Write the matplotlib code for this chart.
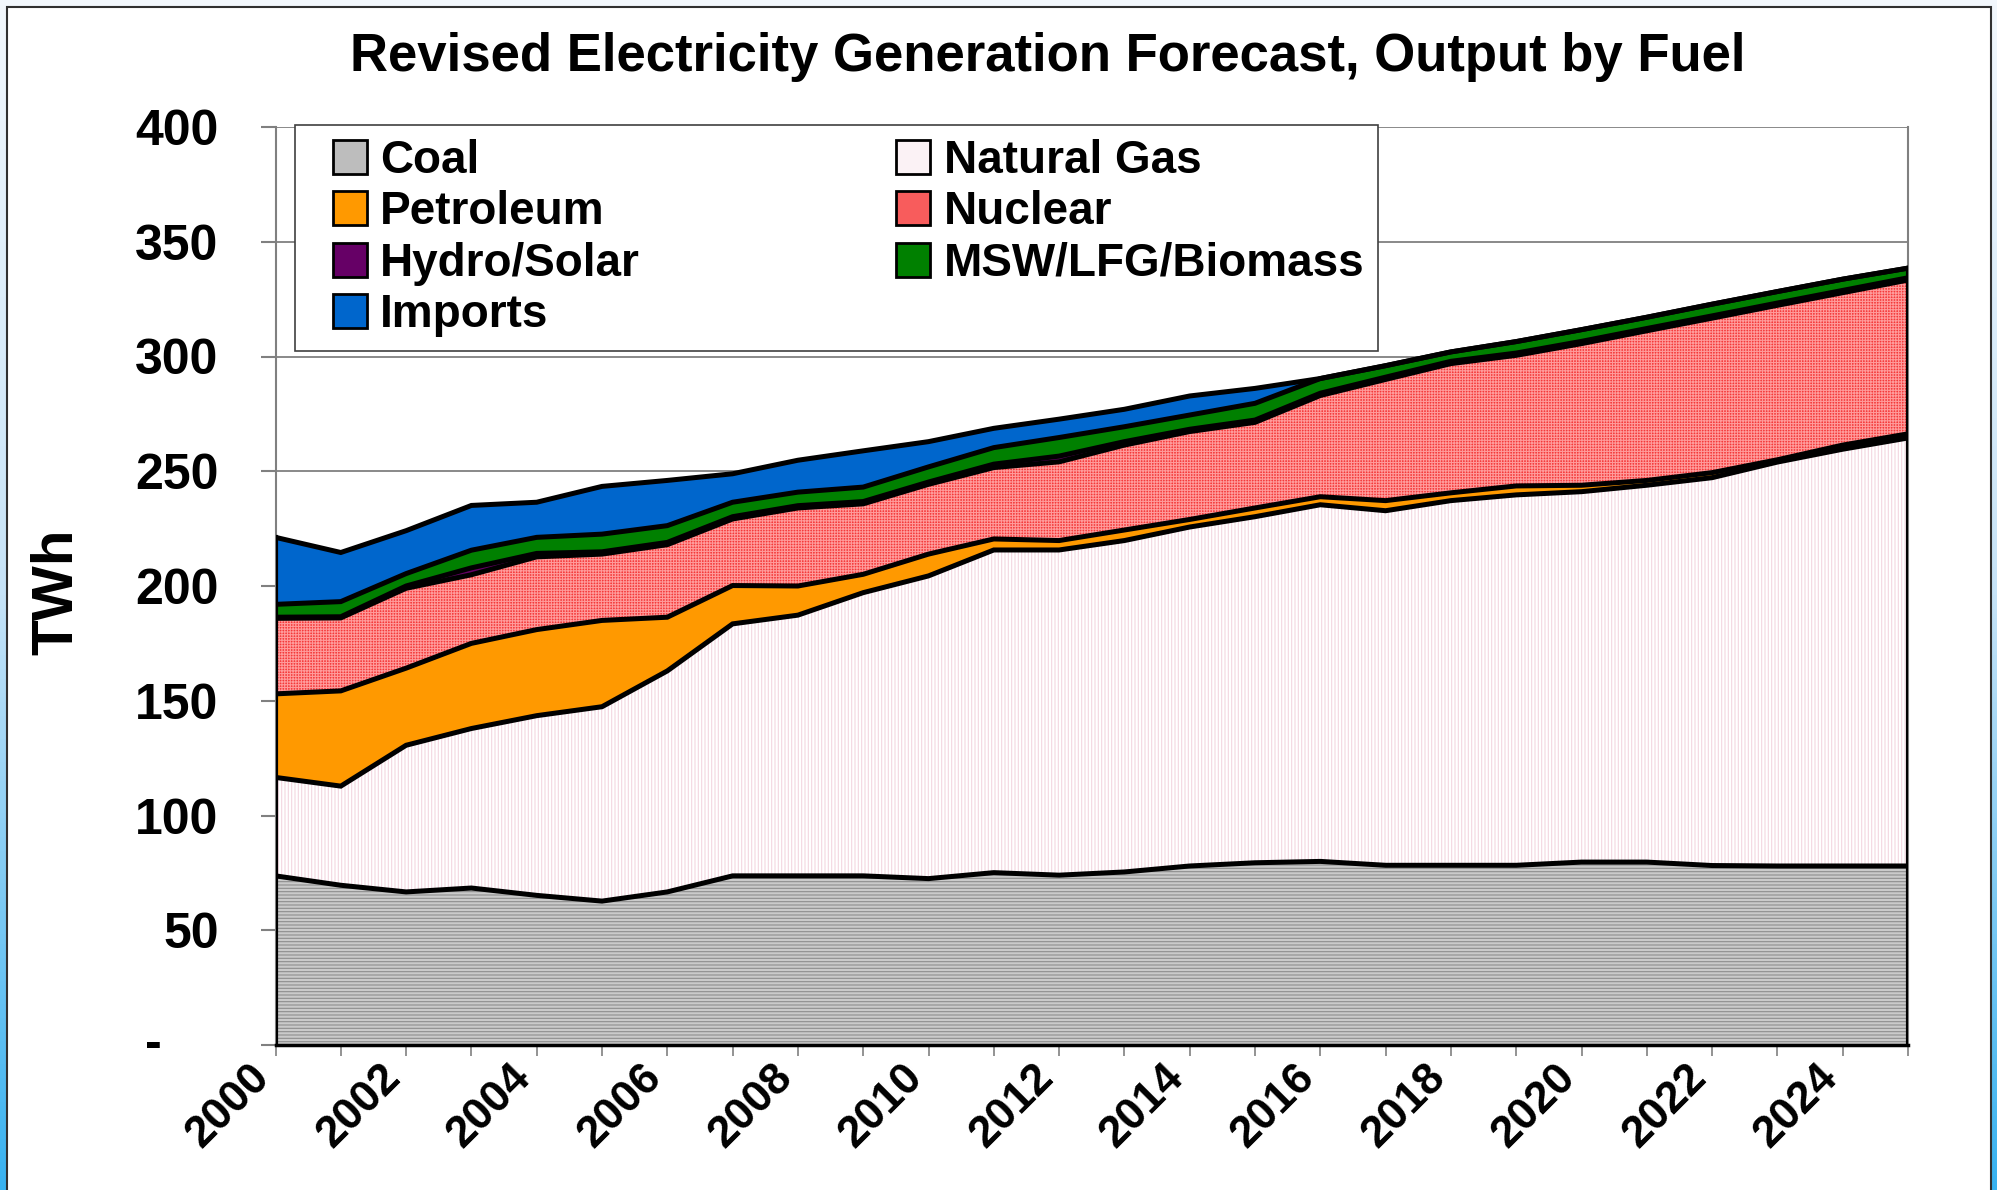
import numpy as np
import matplotlib.pyplot as plt
import matplotlib.transforms as mtransforms
from matplotlib.lines import Line2D
from matplotlib.patches import Rectangle
from matplotlib.colors import LinearSegmentedColormap

plt.rcParams['font.family'] = ['Liberation Sans', 'DejaVu Sans']
plt.rcParams['font.weight'] = 'bold'
plt.rcParams['hatch.linewidth'] = 0.8

# values (TWh)
years = list(range(2000, 2026))
coal = [73.7, 69.6, 66.7, 68.4, 65.2, 62.7, 66.7, 73.7, 73.7, 73.7, 72.5, 75.1, 74.0,
        75.4, 78.0, 79.4, 80.0, 78.3, 78.3, 78.3, 79.7, 79.7, 78.2, 78.0, 78.0, 78.0]
natural_gas = [42.9, 43.2, 63.9, 69.5, 78.3, 84.7, 96.3, 109.8, 113.6, 123.4, 131.9, 140.6, 141.7,
               144.4, 147.7, 150.8, 155.4, 154.5, 158.9, 161.4, 161.4, 164.2, 169.0, 176.0, 181.6, 186.5]
petroleum = [36.4, 41.5, 33.6, 37.1, 37.5, 37.6, 23.4, 16.7, 12.7, 8.0, 9.5, 4.8, 4.1,
             4.6, 3.3, 3.8, 3.5, 4.4, 3.4, 3.9, 2.8, 2.1, 2.2, 1.0, 1.8, 1.8]
nuclear = [32.9, 31.8, 34.8, 29.9, 31.7, 28.9, 31.6, 29.0, 34.0, 30.7, 30.4, 31.1, 34.3,
           37.0, 38.3, 37.3, 44.1, 52.8, 56.3, 56.9, 61.7, 65.2, 67.3, 67.3, 66.4, 67.0]
hydro_solar = [0.5, 0.5, 1.0, 3.0, 1.5, 1.0, 1.0, 1.0, 1.0, 1.0, 1.0, 1.5, 2.5,
               1.5, 1.0, 1.0, 1.0, 1.0, 1.0, 1.0, 1.0, 1.0, 1.0, 1.0, 1.0, 1.0]
msw = [5.6, 6.6, 5.4, 7.7, 7.0, 7.7, 7.3, 6.3, 5.9, 6.3, 6.6, 7.2, 8.1,
       6.5, 6.2, 7.3, 6.4, 5.0, 4.1, 5.0, 5.1, 4.9, 5.1, 5.0, 4.9, 4.2]
imports = [29.2, 21.4, 18.7, 19.5, 15.3, 20.8, 19.7, 12.4, 13.9, 15.8, 11.0, 8.4, 8.0,
           7.6, 8.3, 6.5, 0, 0, 0, 0, 0, 0, 0, 0, 0, 0]

series = [coal, natural_gas, petroleum, nuclear, hydro_solar, msw, imports]
labels = ["Coal", "Natural Gas", "Petroleum", "Nuclear", "Hydro/Solar", "MSW/LFG/Biomass", "Imports"]
faces = ["#cacaca", "#ffffff", "#ff9900", "#f43a3a", "#660066", "#008000", "#0066cc"]
hatch_colors = ["#8e8e8e", "#f3d6e0", "#ff9900", "#ff9a9a", "#660066", "#008000", "#0066cc"]
hatches = ["-----", "|||||", None, "++++++", None, None, None]
legend_faces = ["#bdbdbd", "#fbf2f5", "#ff9900", "#f85c5c", "#660066", "#008000", "#0066cc"]

fig = plt.figure(figsize=(19.97, 11.90), dpi=100)

# slide background
bg = fig.add_axes([0, 0, 1, 1], zorder=-10)
grad = np.linspace(0, 1, 256).reshape(-1, 1)
cmap = LinearSegmentedColormap.from_list("bg", ["#f2f7fc", "#c6e3f7", "#38b2f0"])
bg.imshow(grad, aspect="auto", cmap=cmap, extent=[0, 1, 0, 1], origin="upper")
bg.add_patch(Rectangle((7 / 1997, -0.01), (1991 - 7) / 1997, 1.01 - 7 / 1190,
                       facecolor="white", edgecolor="#303030", lw=1.5))
bg.set_xlim(0, 1)
bg.set_ylim(0, 1)
bg.axis("off")

ax = fig.add_axes([275.5 / 1997, 1 - 1045 / 1190, (1908 - 275.5) / 1997, (1045 - 127) / 1190])

polys = ax.stackplot(years, *series, colors=faces, zorder=2)
for p, hc, h in zip(polys, hatch_colors, hatches):
    p.set_edgecolor(hc)
    p.set_linewidth(0)
    if h:
        p.set_hatch(h)

tops = np.cumsum(np.array(series), axis=0)
for row in tops:
    ax.plot(years, row, color="black", lw=3.6, zorder=4, solid_joinstyle="miter")
ax.plot([years[0], years[0]], [0, tops[-1][0]], color="black", lw=3, zorder=4)
ax.plot([years[-1], years[-1]], [0, tops[-1][-1]], color="black", lw=3, zorder=4)

ax.set_xlim(2000, 2025)
ax.set_ylim(0, 400)
ax.set_yticks(range(0, 401, 50))
ax.set_yticklabels([""] + [str(v) for v in range(50, 401, 50)])
ax.set_xticks(years)
ax.tick_params(axis="y", length=11, width=1.5, color="#808080", labelsize=36, pad=30)
ax.tick_params(axis="x", length=8, width=1.2, color="#808080", labelsize=32, pad=10)
ax.set_xticklabels([str(y) if (y - 2000) % 2 == 0 else "" for y in years],
                   rotation=45, ha="right", va="center", rotation_mode="anchor")
shift = mtransforms.ScaledTranslation(-0.12, -0.01, fig.dpi_scale_trans)
for lbl in ax.get_xticklabels():
    lbl.set_transform(lbl.get_transform() + shift)
ax.grid(axis="y", color="#808080", lw=1.3, zorder=1)
ax.set_axisbelow(True)
ax.spines["top"].set_visible(False)
for s in ["left", "right", "bottom"]:
    ax.spines[s].set_color("#808080")
    ax.spines[s].set_linewidth(1.5)
ax.spines["bottom"].set_color("black")
ax.spines["bottom"].set_linewidth(2.5)

ax.text(-0.075, 0, "-", transform=ax.transAxes, fontsize=36, ha="center", va="center")

fig.text(57 / 1997, 1 - 592 / 1190, "TWh", rotation=90, fontsize=42, ha="center", va="center")
fig.text(1048 / 1997, 1 - 57 / 1190, "Revised Electricity Generation Forecast, Output by Fuel",
         fontsize=38, ha="center", va="center")

order = [0, 2, 4, 6, 1, 3, 5]
handles = [Line2D([], [], ls="none", marker="s", markersize=24, markerfacecolor=legend_faces[i],
                  markeredgecolor="black", markeredgewidth=2) for i in order]
leg = ax.legend(handles, [labels[i] for i in order], ncol=2, loc="upper left",
                bbox_to_anchor=(0.012, 0.5, 0.6634, 0.502), mode="expand", borderaxespad=0,
                fontsize=33, frameon=True, fancybox=False, framealpha=1, edgecolor="#404040",
                handlelength=1.78, handleheight=0.7, handletextpad=-0.22,
                labelspacing=0.16, borderpad=0.3)
leg.get_frame().set_linewidth(1.2)
leg.set_zorder(6)

fig.savefig("out.png", dpi=100)
